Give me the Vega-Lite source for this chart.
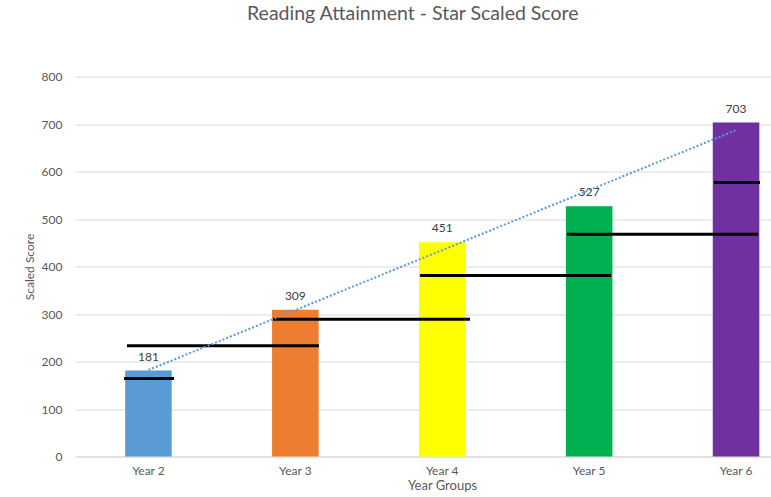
{
  "$schema": "https://vega.github.io/schema/vega-lite/v6.json",
  "width": 696,
  "height": 380,
  "autosize": {"type": "none"},
  "padding": {"left": 75, "top": 76.5, "right": 0, "bottom": 40},
  "config": {"view": {"stroke": null}, "font": "Lato"},
  "title": {
    "text": "Reading Attainment - Star Scaled Score",
    "fontSize": 19.5,
    "font": "Lato",
    "fontWeight": "normal",
    "color": "#595959",
    "anchor": "start",
    "frame": "group",
    "dx": 172,
    "offset": 46
  },
  "datasets": {
    "bars": [
      {"year": "Year 2", "score": 181},
      {"year": "Year 3", "score": 309},
      {"year": "Year 4", "score": 451},
      {"year": "Year 5", "score": 527},
      {"year": "Year 6", "score": 703}
    ],
    "bench": [
      {"start": 0.834, "end": 1.174, "score": 164},
      {"start": 0.854, "end": 2.161, "score": 233},
      {"start": 1.848, "end": 3.189, "score": 289},
      {"start": 2.849, "end": 4.149, "score": 381},
      {"start": 3.849, "end": 5.149, "score": 468},
      {"start": 4.85, "end": 5.163, "score": 577}
    ],
    "trend": [
      {"pos": 1, "score": 182},
      {"pos": 5, "score": 687}
    ]
  },
  "layer": [
    {
      "data": {"name": "bars"},
      "encoding": {
        "x": {
          "field": "year",
          "type": "nominal",
          "sort": null,
          "scale": {"range": [0, 734.5], "paddingInner": 0.683, "paddingOuter": 0.3415},
          "axis": {
            "title": "Year Groups",
            "titleFontSize": 13,
            "titleFontWeight": "normal",
            "titleColor": "#595959",
            "titlePadding": 3,
            "titleX": 367,
            "labelAngle": 0,
            "labelFontSize": 12,
            "labelColor": "#595959",
            "labelPadding": 9,
            "ticks": false,
            "domainColor": "#d9d9d9",
            "domainWidth": 1
          }
        },
        "y": {
          "field": "score",
          "type": "quantitative",
          "scale": {"domain": [0, 800]},
          "axis": {
            "title": "Scaled Score",
            "titleFontSize": 12,
            "titleFontWeight": "normal",
            "titleColor": "#595959",
            "titlePadding": 5,
            "values": [0, 100, 200, 300, 400, 500, 600, 700, 800],
            "labelFontSize": 12,
            "labelColor": "#595959",
            "labelPadding": 13,
            "ticks": false,
            "domain": false,
            "gridColor": "#d9d9d9"
          }
        }
      },
      "layer": [
        {
          "mark": {"type": "bar"},
          "encoding": {
            "color": {
              "field": "year",
              "type": "nominal",
              "scale": {
                "domain": ["Year 2", "Year 3", "Year 4", "Year 5", "Year 6"],
                "range": ["#5B9BD5", "#ED7D31", "#FFFF00", "#00B050", "#7030A0"]
              },
              "legend": null
            }
          }
        },
        {
          "mark": {"type": "text", "baseline": "bottom", "dy": -7, "fontSize": 12, "color": "#404040"},
          "encoding": {"text": {"field": "score", "type": "quantitative"}}
        }
      ]
    },
    {
      "data": {"name": "bench"},
      "mark": {"type": "rule", "color": "#000000", "strokeWidth": 3},
      "encoding": {
        "x": {"field": "start", "type": "quantitative", "scale": {"domain": [0.5, 5.5], "range": [0, 734.5]}, "axis": null},
        "x2": {"field": "end"},
        "y": {"field": "score", "type": "quantitative"}
      }
    },
    {
      "data": {"name": "trend"},
      "mark": {"type": "line", "color": "#5B9BD5", "strokeWidth": 2, "strokeDash": [2, 2]},
      "encoding": {
        "x": {"field": "pos", "type": "quantitative", "scale": {"domain": [0.5, 5.5], "range": [0, 734.5]}, "axis": null},
        "y": {"field": "score", "type": "quantitative"}
      }
    }
  ],
  "resolve": {"scale": {"x": "independent"}, "axis": {"x": "independent"}}
}
